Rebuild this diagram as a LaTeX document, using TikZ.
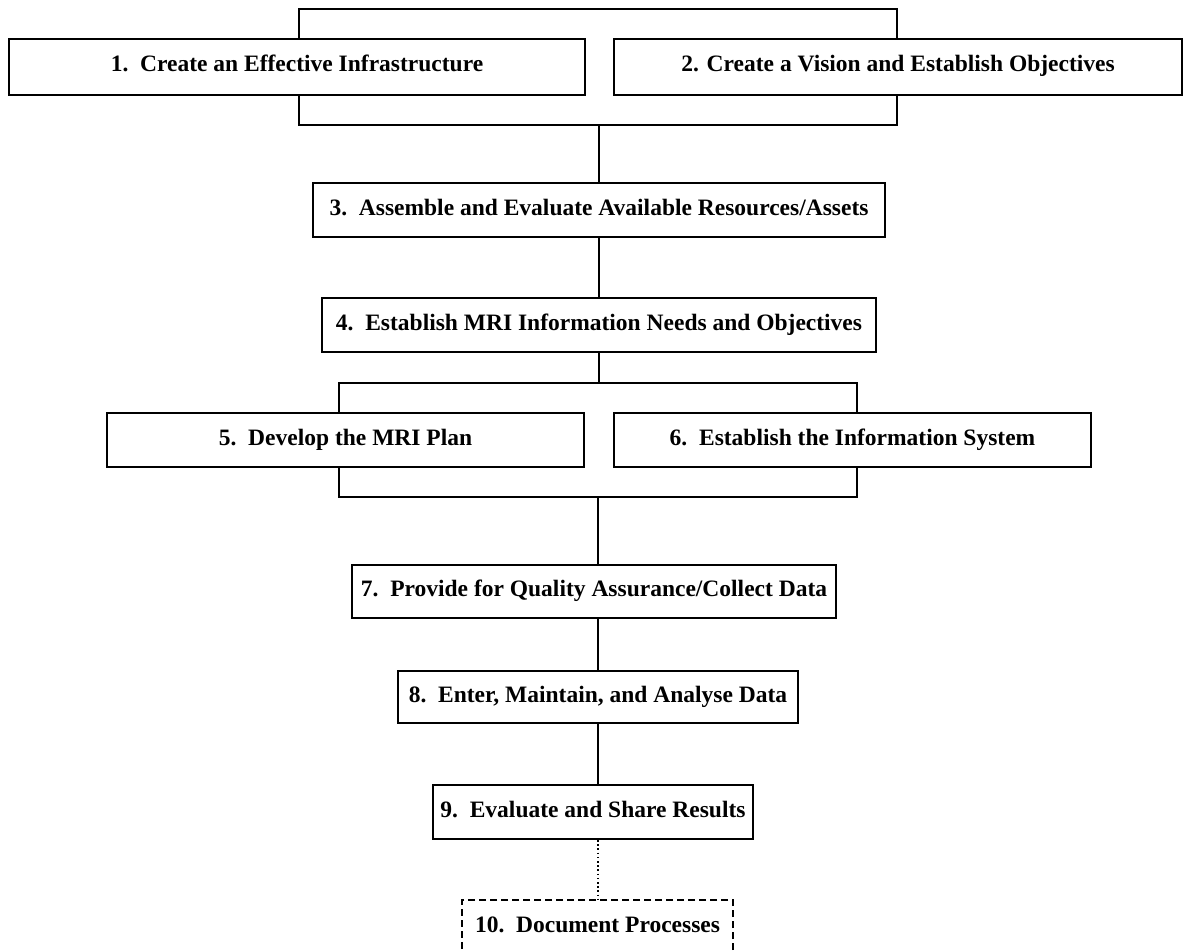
\documentclass[tikz,border=0pt]{standalone}
\usepackage{fontspec}
\setmainfont{Liberation Serif}
\begin{document}
\begin{tikzpicture}[x=1pt,y=-1pt,
  box/.style={draw, line width=2pt, fill=white, inner sep=0pt,
    text height=15pt, text depth=5pt,
    font=\bfseries\fontsize{23.5}{28}\selectfont},
  sz/.style 2 args={minimum width=#1pt, minimum height=#2pt},
  link/.style={line width=2pt},
  dotlink/.style={line width=2pt, dash pattern=on 1.6pt off 2.6pt},
  dashbox/.style={box, dash pattern=on 7pt off 4pt}]
\useasboundingbox (0,0) rectangle (1186,952);
% bracket corners
\coordinate (t1L) at (299,9);   \coordinate (t1R) at (897,9);
\coordinate (u1L) at (299,125); \coordinate (u1R) at (897,125);
\coordinate (t2L) at (339,383); \coordinate (t2R) at (857,383);
\coordinate (u2L) at (339,497); \coordinate (u2R) at (857,497);
% boxes
\node[box, sz={576}{56}] (b1) at (297,67) {1.\ \ Create an Effective Infrastructure};
\node[box, sz={568}{56}] (b2) at (898,67) {2. Create a Vision and Establish Objectives};
\node[box, sz={572}{54}] (b3) at (599,210) {3.\ \ Assemble and Evaluate Available Resources/Assets};
\node[box, sz={554}{54}] (b4) at (599,325) {4.\ \ Establish MRI Information Needs and Objectives};
\node[box, sz={477}{54}] (b5) at (345.5,440) {5.\ \ Develop the MRI Plan};
\node[box, sz={477}{54}] (b6) at (852.5,440) {6.\ \ Establish the Information System};
\node[box, sz={484}{53}] (b7) at (594,591.5) {7.\ \ Provide for Quality Assurance/Collect Data};
\node[box, sz={400}{52}] (b8) at (598,697) {8.\ \ Enter, Maintain, and Analyse Data};
\node[box, sz={320}{54}] (b9) at (593,812) {9.\ \ Evaluate and Share Results};
\node[dashbox, sz={271}{54}] (b10) at (597.5,927) {10.\ \ Document Processes};
% connectors
\draw[link] (b1.north -| t1L) -- (t1L) -- (t1R) -- (b2.north -| t1R);
\draw[link] (b1.south -| u1L) -- (u1L) -- (u1R) -- (b2.south -| u1R);
\draw[link] (b3.north |- u1L) -- (b3.north);
\draw[link] (b3.south) -- (b4.north);
\draw[link] (b4.south) -- (b4.south |- t2L);
\draw[link] (b5.north -| t2L) -- (t2L) -- (t2R) -- (b6.north -| t2R);
\draw[link] (b5.south -| u2L) -- (u2L) -- (u2R) -- (b6.south -| u2R);
\draw[link] (b8.north |- u2L) -- (b8.north |- b7.north);
\draw[link] (b8.north |- b7.south) -- (b8.north);
\draw[link] (b8.south) -- (b8.south |- b9.north);
\draw[dotlink] (b9.south -| b10.north) -- (b10.north);
\end{tikzpicture}
\end{document}
